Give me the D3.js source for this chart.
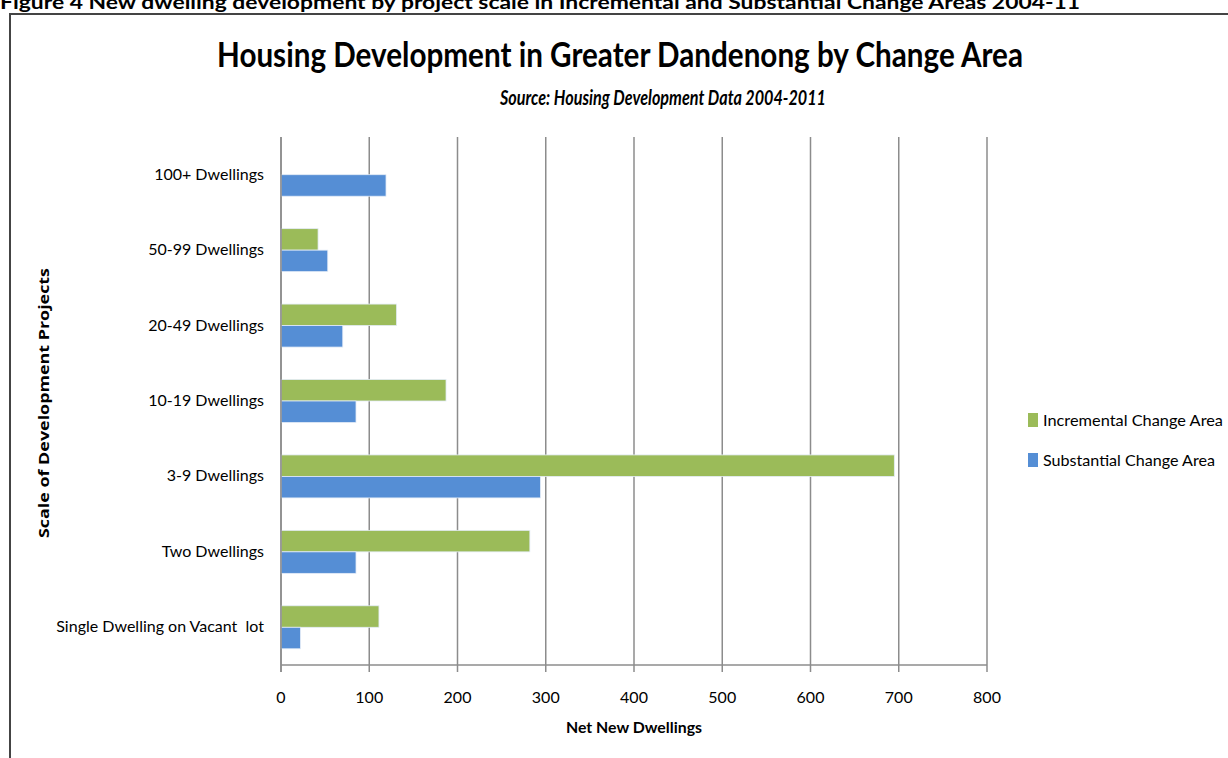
<!DOCTYPE html>
<html>
<head>
<meta charset="utf-8">
<script src="https://cdn.jsdelivr.net/npm/d3@7"></script>
<style>
  body { margin: 0; background: #fff; }
  svg { display: block; }
</style>
</head>
<body>
<svg id="chart" width="1228" height="758"></svg>
<script>
// categories, top to bottom as drawn
const categories = [
  '100+ Dwellings',
  '50-99 Dwellings',
  '20-49 Dwellings',
  '10-19 Dwellings',
  '3-9 Dwellings',
  'Two Dwellings',
  'Single Dwelling on Vacant  lot'
];
const seriesNames = ['Incremental Change Area', 'Substantial Change Area'];
const incremental = [0, 42, 131, 187, 695, 282, 111];
const substantial = [119, 53, 70, 85, 294, 85, 22];
const xTicks = [0, 100, 200, 300, 400, 500, 600, 700, 800];
const colors = ['#9BBB59', '#558ED5'];

const font = 'Lato, "Open Sans", sans-serif';
const svg = d3.select('#chart');

// plot box
const plot = { left: 281, right: 987, top: 137, bottom: 665 };

const x = d3.scaleLinear().domain([0, 800]).range([plot.left, plot.right]);
const y = d3.scaleBand()
  .domain(categories)
  .range([plot.top, plot.bottom])
  .paddingInner(0.43)
  .paddingOuter(0.215);
const ySub = d3.scaleBand().domain(seriesNames).range([0, y.bandwidth()]);

// caption above the frame (cut off at top in the original too)
svg.append('text')
  .attr('x', 0).attr('y', 9)
  .attr('font-family', font).attr('font-weight', 'bold')
  .attr('font-size', 18)
  .attr('textLength', 1080).attr('lengthAdjust', 'spacingAndGlyphs')
  .text('Figure 4  New dwelling development by project scale in Incremental and Substantial Change Areas 2004-11');

// outer frame
svg.append('rect')
  .attr('x', 10).attr('y', 14)
  .attr('width', 1240).attr('height', 760)
  .attr('fill', 'none').attr('stroke', '#444').attr('stroke-width', 2);

// titles
svg.append('text')
  .attr('x', 620).attr('y', 67)
  .attr('text-anchor', 'middle')
  .attr('font-family', font).attr('font-weight', 'bold').attr('font-size', 35)
  .attr('textLength', 806).attr('lengthAdjust', 'spacingAndGlyphs')
  .text('Housing Development in Greater Dandenong by Change Area');
svg.append('text')
  .attr('x', 663).attr('y', 105)
  .attr('text-anchor', 'middle')
  .attr('font-family', font).attr('font-weight', 'bold').attr('font-style', 'italic')
  .attr('font-size', 20)
  .attr('textLength', 326).attr('lengthAdjust', 'spacingAndGlyphs')
  .text('Source: Housing  Development Data 2004-2011');

// gridlines
svg.append('g')
  .selectAll('line')
  .data(xTicks)
  .join('line')
  .attr('x1', d => x(d)).attr('x2', d => x(d))
  .attr('y1', plot.top).attr('y2', plot.bottom + 7)
  .attr('stroke', '#8c8c8c').attr('stroke-width', 1.5);

// bars
const groups = svg.append('g')
  .selectAll('g')
  .data(categories)
  .join('g')
  .attr('transform', d => `translate(0,${y(d)})`);

groups.selectAll('rect')
  .data((d, i) => [
    { s: seriesNames[0], v: incremental[i], c: colors[0] },
    { s: seriesNames[1], v: substantial[i], c: colors[1] }
  ])
  .join('rect')
  .attr('x', x(0))
  .attr('y', d => ySub(d.s))
  .attr('width', d => x(d.v) - x(0))
  .attr('height', ySub.bandwidth())
  .attr('fill', d => d.c)
  .attr('stroke', d => d.v > 0 ? '#e4ecf7' : 'none')
  .attr('stroke-width', 0.8);

// axes lines
svg.append('line')
  .attr('x1', plot.left).attr('x2', plot.right)
  .attr('y1', plot.bottom).attr('y2', plot.bottom)
  .attr('stroke', '#8c8c8c').attr('stroke-width', 1.5);
svg.append('line')
  .attr('x1', plot.left).attr('x2', plot.left)
  .attr('y1', plot.top).attr('y2', plot.bottom + 7)
  .attr('stroke', '#8c8c8c').attr('stroke-width', 1.5);

// x tick labels
svg.append('g')
  .selectAll('text')
  .data(xTicks)
  .join('text')
  .attr('x', d => x(d)).attr('y', 703)
  .attr('text-anchor', 'middle')
  .attr('font-family', font).attr('font-size', 16)
  .text(d => d);

// y category labels
svg.append('g')
  .selectAll('text')
  .data(categories)
  .join('text')
  .attr('x', 264)
  .attr('y', d => y(d) + y.bandwidth() / 2 + 5)
  .attr('text-anchor', 'end')
  .attr('font-family', font).attr('font-size', 16)
  .style('white-space', 'pre')
  .text(d => d);

// axis titles
svg.append('text')
  .attr('x', 634).attr('y', 733)
  .attr('text-anchor', 'middle')
  .attr('font-family', font).attr('font-weight', 'bold').attr('font-size', 15)
  .attr('textLength', 136).attr('lengthAdjust', 'spacingAndGlyphs')
  .text('Net New Dwellings');
svg.append('text')
  .attr('transform', 'translate(49,403) rotate(-90)')
  .attr('text-anchor', 'middle')
  .attr('font-family', '"Open Sans", sans-serif').attr('font-weight', 'bold').attr('font-size', 15)
  .attr('textLength', 270).attr('lengthAdjust', 'spacingAndGlyphs')
  .text('Scale of Development Projects');

// legend
const legend = svg.append('g')
  .selectAll('g')
  .data(seriesNames)
  .join('g')
  .attr('transform', (d, i) => `translate(1028,${413 + i * 40})`);
legend.append('rect')
  .attr('width', 10).attr('height', 14)
  .attr('fill', (d, i) => colors[i]);
legend.append('text')
  .attr('x', 15).attr('y', 13)
  .attr('font-family', font).attr('font-size', 16)
  .attr('textLength', (d, i) => i === 0 ? 180 : 172)
  .attr('lengthAdjust', 'spacingAndGlyphs')
  .text(d => d);
</script>
</body>
</html>
